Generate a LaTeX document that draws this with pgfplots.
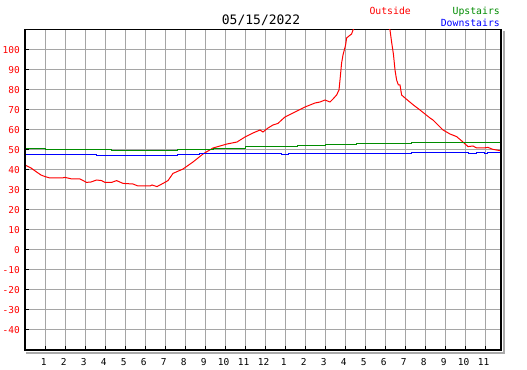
\documentclass[border=0pt]{standalone}
\usepackage{pgfplots}
\pgfplotsset{compat=1.18}
\usepackage{fontspec}
\setmainfont{DejaVu Sans Mono}
\definecolor{gridc}{RGB}{165,165,165}
\definecolor{upc}{RGB}{0,140,0}
\definecolor{shadowc}{RGB}{170,170,170}
\begin{document}
\begin{tikzpicture}
\path[use as bounding box, fill=white] (0,0) rectangle (527bp,370bp);
\begin{axis}[name=ax, at={(25bp,20bp)}, anchor=south west,
  scale only axis, width=476bp, height=320bp,
  xmin=0, xmax=23.8, ymin=-50, ymax=110,
  xtick={1,2,3,4,5,6,7,8,9,10,11,12,13,14,15,16,17,18,19,20,21,22,23},
  xticklabels={1,2,3,4,5,6,7,8,9,10,11,12,1,2,3,4,5,6,7,8,9,10,11},
  ytick={-40,-30,-20,-10,0,10,20,30,40,50,60,70,80,90,100},
  grid=major, major grid style={draw=gridc, line width=1bp},
  tick align=inside, major tick length=4bp,
  tick style={black, line width=1bp},
  xtick pos=lower, ytick pos=left,
  axis line style={black, line width=1bp},
  /pgf/number format/assume math mode=true,
  yticklabel style={red, font=\fontsize{9.5bp}{11bp}\selectfont, inner sep=0pt, anchor=east, xshift=-5bp},
  xticklabel style={black, font=\fontsize{9.5bp}{11bp}\selectfont, inner sep=0pt, anchor=north, yshift=-8bp, xshift=-1.3bp},
]
\addplot[red, line width=1bp] coordinates {
(0,42.5) (0.3,41) (0.58,39) (0.8,37.5) (1,36.7) (1.25,36) (1.85,36) (2,36.3) (2.35,35.5) (2.75,35.5) (3.08,33.8) (3.3,34) (3.58,35) (3.83,34.7) (4,33.8) (4.33,33.8) (4.58,34.7) (4.9,33.3) (5.4,33) (5.65,32) (6.25,32) (6.35,32.5) (6.6,31.7) (6.9,33.3) (7.15,34.7) (7.4,38.3) (7.9,40.5) (8.4,44) (8.9,48) (9.4,51) (10.1,53) (10.6,54) (11,56.5) (11.4,58.5) (11.75,60) (11.9,59) (12.15,61) (12.4,62.5) (12.65,63.3) (12.83,65) (13,66.5) (13.5,69) (14,71.5) (14.5,73.5) (14.75,74) (15,75) (15.25,74) (15.4,75.5) (15.58,77.5) (15.7,80) (15.75,85) (15.83,93.5) (15.9,97.5) (16.03,102.5) (16.08,106) (16.2,107) (16.33,108) (16.4,110) (16.6,113) (17.3,118) (18,114) (18.25,110) (18.33,104) (18.42,98) (18.5,90) (18.58,85) (18.67,82.5) (18.75,82.5) (18.83,77.5) (19,76) (19.42,72.5) (19.75,70) (20.25,66) (20.4,65) (20.9,60) (21.25,58) (21.58,56.7) (21.9,54) (22.15,51.7) (22.4,52) (22.58,51) (22.9,51) (23.15,51.3) (23.4,50.3) (23.75,49.7) (23.9,49.5)
};
\addplot[upc, line width=1bp, const plot] coordinates {
(0,50.8) (1,50.3) (4.3,49.8) (7.6,50.3) (9.4,50.8) (11,51.5) (13.6,52) (15,52.5) (16.55,53) (17.6,53.3) (19.3,53.8) (23.9,53.8)
};
\addplot[blue, line width=1bp, const plot] coordinates {
(0,47.5) (3.55,47) (7.6,47.5) (8.7,48) (12.8,47.8) (13.15,48.3) (19.3,48.8) (22.15,48.4) (22.55,48.8) (22.95,48.4) (23.1,48.8) (23.9,48.8)
};
\end{axis}
\draw[shadowc, line width=2bp] ([shift={(1bp,-3bp)}]ax.south west) -- ([shift={(3bp,-3bp)}]ax.south east) -- ([shift={(3bp,-1bp)}]ax.north east);
\draw[black, line width=2bp] ([yshift=-0.5bp]ax.north west) -- (ax.south west) -- (ax.south east) -- ([yshift=-0.5bp]ax.north east);
\node[font=\fontsize{13bp}{15bp}\selectfont, anchor=base, inner sep=0pt] at (261bp,345bp) {05/15/2022};
\node[font=\fontsize{9.8bp}{11bp}\selectfont, anchor=base west, inner sep=0pt, text=red] at (369.3bp,355bp) {Outside};
\node[font=\fontsize{9.8bp}{11bp}\selectfont, anchor=base east, inner sep=0pt, text=upc] at (500bp,355bp) {Upstairs};
\node[font=\fontsize{9.8bp}{11bp}\selectfont, anchor=base east, inner sep=0pt, text=blue] at (500bp,343.3bp) {Downstairs};
\end{tikzpicture}
\end{document}
